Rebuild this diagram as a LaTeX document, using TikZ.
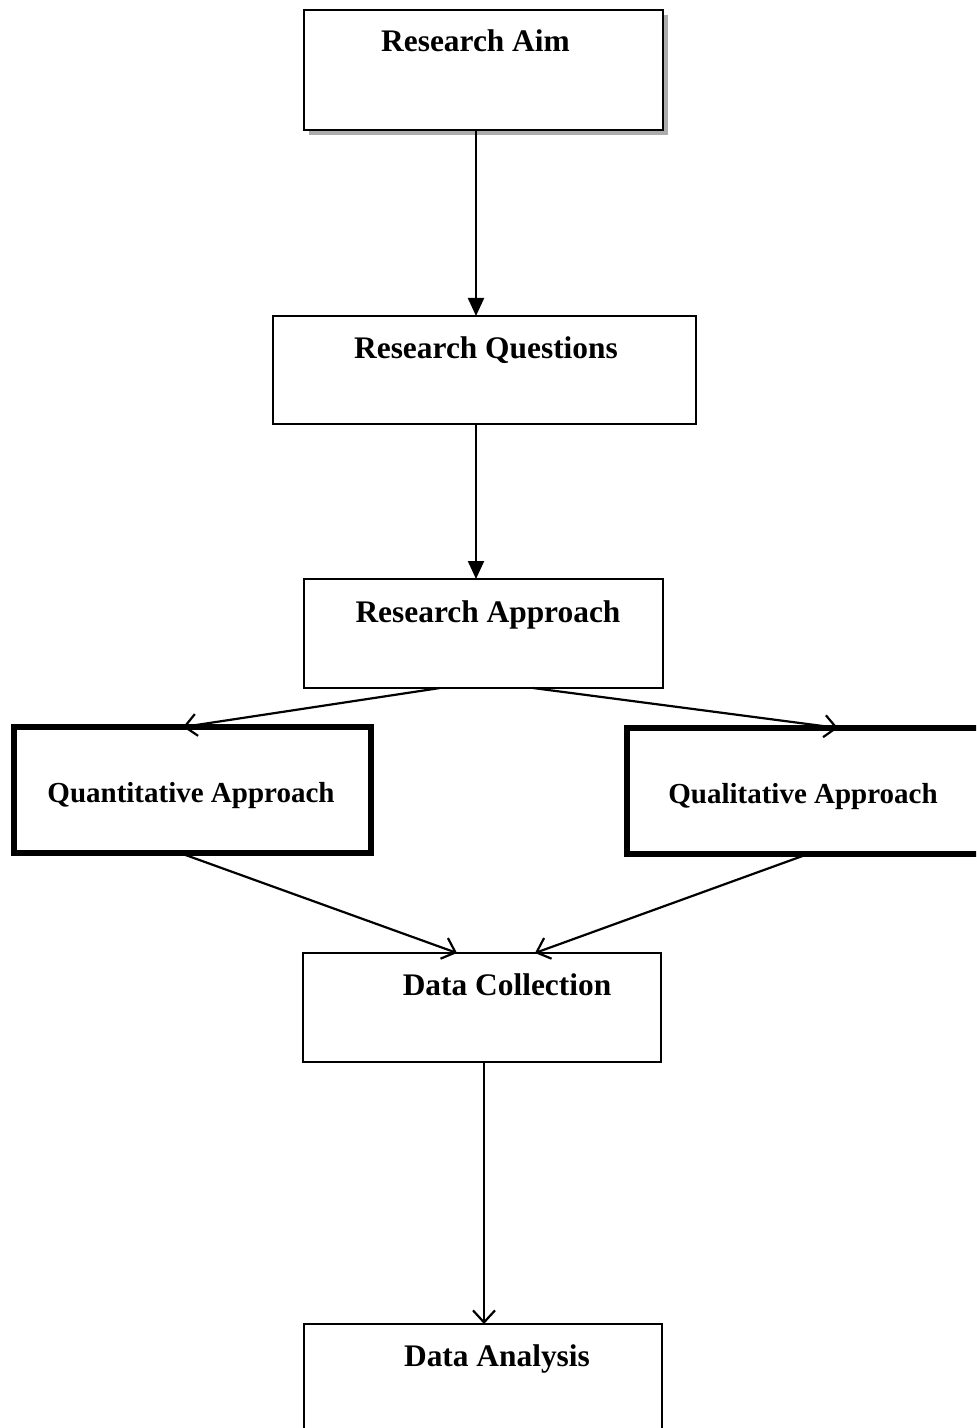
\documentclass[tikz,border=0pt]{standalone}
\usepackage{fontspec}
\setmainfont{Liberation Serif}
\usetikzlibrary{arrows.meta}
\begin{document}
\begin{tikzpicture}[x=0.5pt,y=-0.5pt,
  box/.style={draw=black,line width=0.9pt,fill=white},
  thickbox/.style={draw=black,line width=2.6pt,fill=white},
  lbl/.style={anchor=base,inner sep=0pt,font=\fontsize{15.7}{19}\selectfont\bfseries},
  slbl/.style={anchor=base,inner sep=0pt,font=\fontsize{14.5}{17}\selectfont\bfseries},
  filledarrow/.style={line width=1.1pt,-{Triangle[length=9pt,width=8pt]}},
  openarrow/.style={line width=1.1pt,-{Straight Barb[length=6pt,width=11pt,line width=1.1pt]}}]
\useasboundingbox (0,0) rectangle (976,1428);
\clip (0,0) rectangle (976,1428);
% shadow of first box
\fill[gray!65] (309,15) rectangle (668,135);
% boxes
\draw[box] (304,10) rectangle (663,130);
\coordinate (aimS) at (476,130);
\draw[box] (273,316) rectangle (696,424);
\coordinate (rqN) at (476,316);
\coordinate (rqS) at (476,424);
\draw[box] (304,579) rectangle (663,688);
\coordinate (raN) at (476,579);
\coordinate (raSL) at (440,688);
\coordinate (raSR) at (533,688);
\draw[thickbox] (14,727) rectangle (371,853);
\coordinate (quN) at (183,727);
\coordinate (quS) at (180,853);
\draw[thickbox] (627,728) rectangle (1000,854);
\coordinate (qlN) at (838,728);
\coordinate (qlS) at (808,854);
\draw[box] (303,953) rectangle (661,1062);
\coordinate (dcNL) at (457,953);
\coordinate (dcNR) at (535,953);
\coordinate (dcS) at (484,1062);
\draw[box] (304,1324) rectangle (662,1460);
\coordinate (daN) at (484,1324);
% labels
\node[lbl] (aim) at (475.5,52) {Research Aim};
\node[lbl] (rq) at (486,358) {Research Questions};
\node[lbl] (ra) at (488,622) {Research Approach};
\node[slbl] (qu) at (191,802) {Quantitative Approach};
\node[slbl] (ql) at (803,803) {Qualitative Approach};
\node[lbl] (dc) at (507,995) {Data Collection};
\node[lbl] (da) at (497,1366) {Data Analysis};
% connectors
\draw[filledarrow] (aimS) -- (rqN);
\draw[filledarrow] (rqS) -- (raN);
\draw[openarrow] (raSL) -- (quN);
\draw[openarrow] (raSR) -- (qlN);
\draw[openarrow] (quS) -- (dcNL);
\draw[openarrow] (qlS) -- (dcNR);
\draw[openarrow] (dcS) -- (daN);
\end{tikzpicture}
\end{document}
